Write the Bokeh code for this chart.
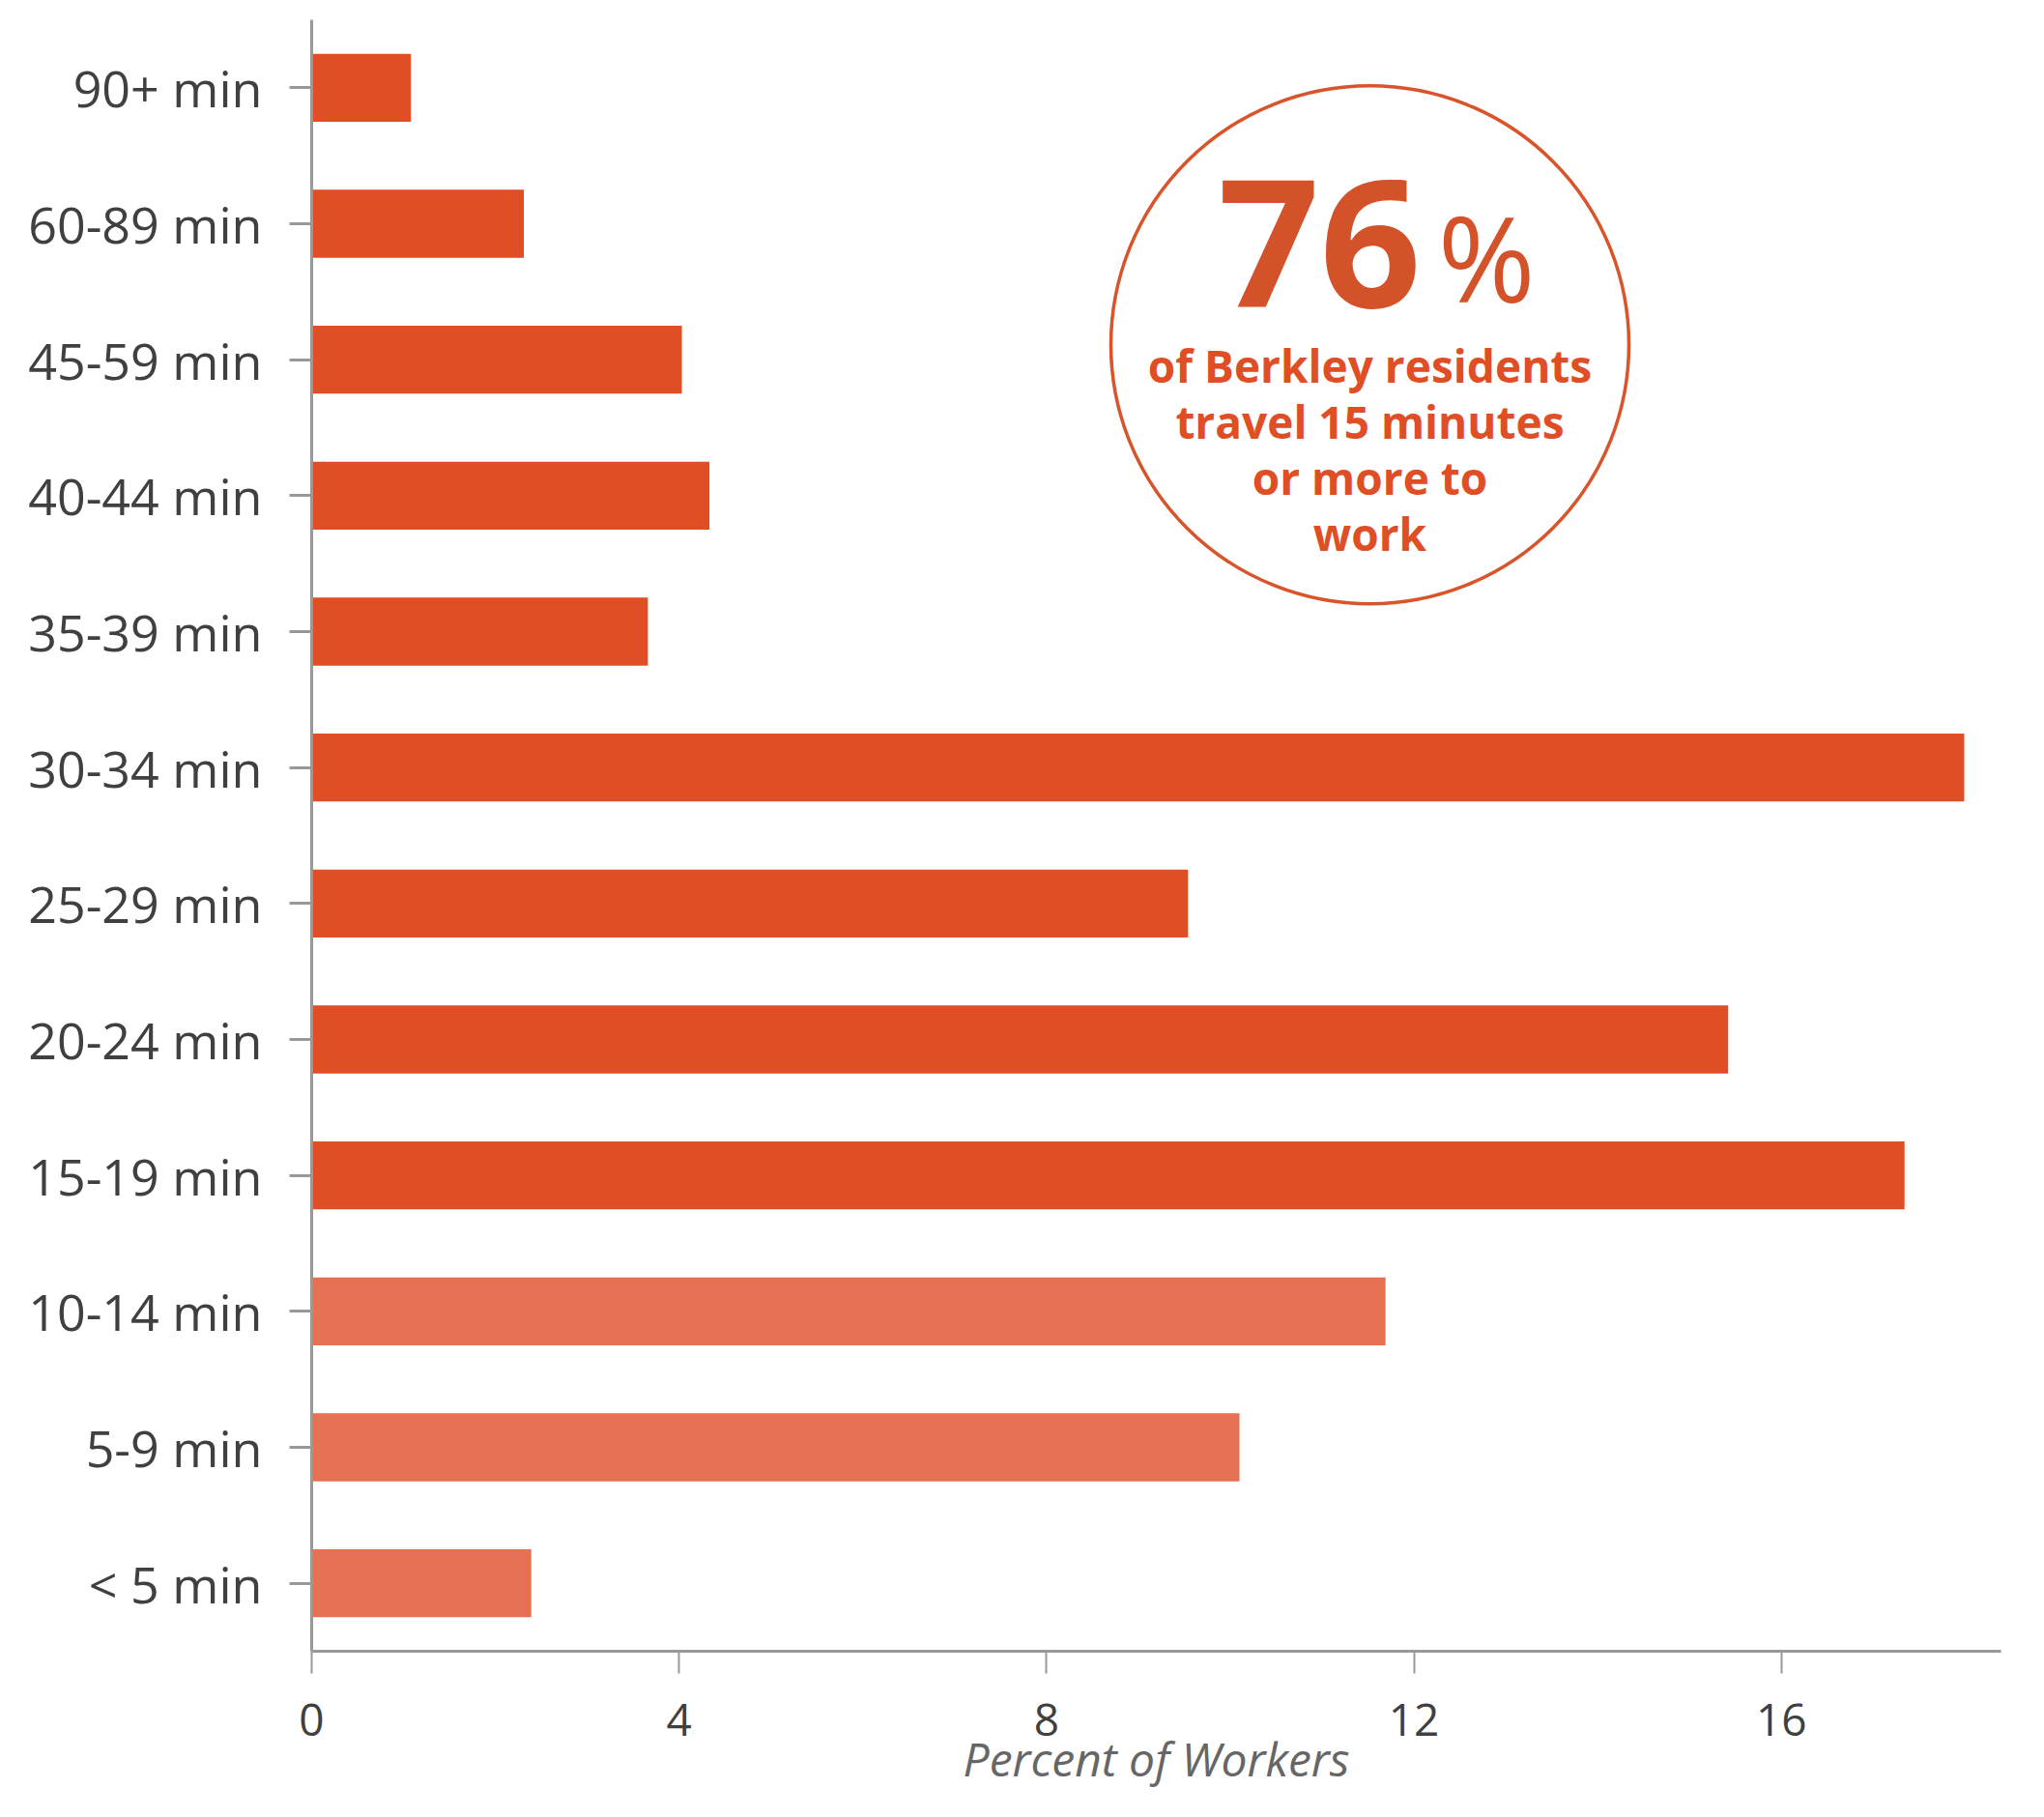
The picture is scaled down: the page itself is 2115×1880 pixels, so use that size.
from bokeh.plotting import figure
from bokeh.models import Range1d, FixedTicker, Label, ColumnDataSource
from bokeh.core.properties import value
from bokeh.embed import file_html
from bokeh.resources import INLINE

# ---- data ----
categories = ["< 5 min", "5-9 min", "10-14 min", "15-19 min", "20-24 min",
              "25-29 min", "30-34 min", "35-39 min", "40-44 min", "45-59 min",
              "60-89 min", "90+ min"]
percent = [2.39, 10.10, 11.69, 17.34, 15.42, 9.54, 17.99, 3.66, 4.33, 4.03, 2.31, 1.08]
group = ["under15", "under15", "under15"] + ["15plus"] * 9
x_ticks = [0, 4, 8, 12, 16]
headline_value = "76"
headline_unit = "%"
headline_lines = ["of Berkley residents", "travel 15 minutes", "or more to", "work"]
axis_title = "Percent of Workers"

# ---- styles ----
DARK = "#E04E26"
LIGHT = "#E67052"
CIRCLE = "#D9532B"
BIG = "#D4522A"
AXIS = "#999999"
LABEL = "#404040"

colors = [LIGHT if g == "under15" else DARK for g in group]
ypos = list(range(len(categories)))
src = ColumnDataSource(dict(y=ypos, right=percent, color=colors, cat=categories))

p = figure(width=2115, height=1880, output_backend="svg", toolbar_location=None,
           x_range=Range1d(0, 18.39), y_range=Range1d(-0.5, len(categories) - 0.5),
           min_border_left=322, min_border_right=45, min_border_top=20,
           min_border_bottom=172)
p.outline_line_color = None
p.xgrid.visible = False
p.ygrid.visible = False
p.background_fill_color = "white"
p.border_fill_color = "white"

p.hbar(y="y", right="right", left=0, height=0.5, fill_color="color",
       line_color=None, source=src)

# y axis
ya = p.yaxis[0]
ya.ticker = FixedTicker(ticks=ypos)
ya.major_label_overrides = {i: c for i, c in zip(ypos, categories)}
ya.axis_line_color = AXIS
ya.axis_line_width = 3
ya.major_tick_line_color = AXIS
ya.major_tick_line_width = 3
ya.major_tick_out = 23
ya.major_tick_in = 0
ya.minor_tick_line_color = None
ya.major_label_standoff = 28
ya.major_label_text_font = "Open Sans"
ya.major_label_text_font_size = "52px"
ya.major_label_text_color = LABEL

# x axis
xa = p.xaxis[0]
xa.ticker = FixedTicker(ticks=x_ticks)
xa.axis_line_color = AXIS
xa.axis_line_width = 3
xa.major_tick_line_color = AXIS
xa.major_tick_line_width = 2
xa.major_tick_out = 23
xa.major_tick_in = 0
xa.minor_tick_line_color = None
xa.major_label_standoff = 31
xa.major_label_text_font = "Open Sans"
xa.major_label_text_font_size = "46px"
xa.major_label_text_color = LABEL
xa.axis_label = axis_title
xa.axis_label_standoff = -12
xa.axis_label_text_font = "Open Sans"
xa.axis_label_text_font_style = "italic"
xa.axis_label_text_font_size = "48px"
xa.axis_label_text_color = "#666666"

# callout circle
p.scatter(x=[11.52], y=[9.11], size=536, marker="circle", fill_color=None,
          line_color=CIRCLE, line_width=3.5)

p.add_layout(Label(x=12.08, y=9.854, text=headline_value, text_align="right",
                   text_baseline="alphabetic", text_font="Open Sans",
                   text_font_style="bold", text_font_size="184px",
                   text_color=BIG))
p.add_layout(Label(x=12.26, y=9.753, text=headline_unit, text_align="left",
                   text_baseline="alphabetic", text_font="Open Sans",
                   text_font_size="122px", text_color=BIG))

line_y = [8.958, 8.546, 8.133, 7.721]
tsrc = ColumnDataSource(dict(x=[11.52] * len(headline_lines), y=line_y, t=headline_lines))
p.text(x="x", y="y", text="t", source=tsrc, text_align="center",
       text_baseline="alphabetic", text_font=value("Open Sans"),
       text_font_style="bold", text_font_size="46px", text_color=DARK)

open("out.html", "w").write(file_html(p, INLINE))
